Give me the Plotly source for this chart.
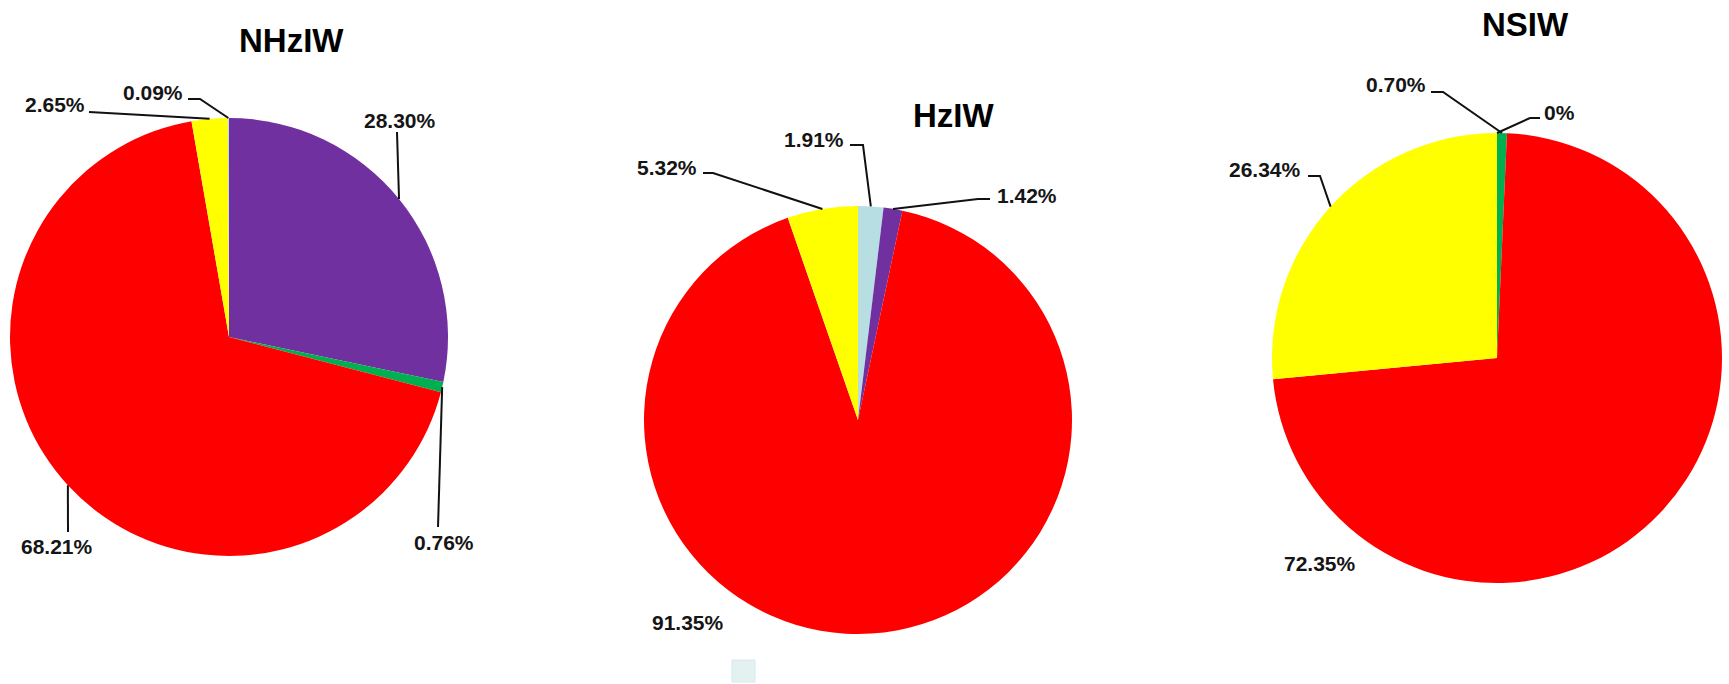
import math
import plotly.graph_objects as go

W, H = 1729, 684

# ---- data -------------------------------------------------------------
titles = ["NHzIW", "HzIW", "NSIW"]

category_colors = {
    "Type I": "#7030A0",    # purple
    "Type II": "#00B050",   # green
    "Type III": "#FF0000",  # red
    "Type IV": "#FFFF00",   # yellow
    "Type V": "#B7DEE2",    # light blue
}

nhziw_categories = ["Type I", "Type II", "Type III", "Type IV", "Type V"]
nhziw_values = [28.30, 0.76, 68.21, 2.65, 0.09]

hziw_categories = ["Type V", "Type I", "Type III", "Type IV"]
hziw_values = [1.91, 1.42, 91.35, 5.32]

nsiw_categories = ["Type I", "Type II", "Type III", "Type IV"]
nsiw_values = [0.0, 0.70, 72.35, 26.34]

# ---- layout (pixel space) ---------------------------------------------
pie_layout = [
    dict(center=(229, 337), radius=219, title_pos=(291, 40),
         labels=[((400, 120), [(397, 132)]),
                 ((444, 542), [(438, 527)]),
                 ((57, 546), [(68, 532)]),
                 ((55, 104), [(89, 112)]),
                 ((153, 93), [(200, 99), (188, 99)])]),
    dict(center=(858, 420), radius=214, title_pos=(954, 115),
         labels=[((814, 139), [(863, 145), (850, 145)]),
                 ((1027, 195), [(978, 199), (990, 199)]),
                 ((688, 622), []),
                 ((667, 167), [(713, 173), (703, 173)])]),
    dict(center=(1497, 358), radius=225, title_pos=(1525, 24),
         labels=[((1559, 112), [(1530, 118), (1540, 118)]),
                 ((1396, 85), [(1443, 92), (1431, 92)]),
                 ((1320, 563), []),
                 ((1265, 170), [(1320, 176), (1308, 176)])]),
]

series = [
    (nhziw_categories, nhziw_values),
    (hziw_categories, hziw_values),
    (nsiw_categories, nsiw_values),
]

FONT = "Liberation Sans, Arial, Helvetica, sans-serif"
TEXT_COLOR = "#151515"


def px(x, y):
    return x / W, 1 - y / H


def fmt(v):
    return "0%" if v == 0 else f"{v:.2f}%"


def edge_point(values, i, cx, cy, r):
    total = sum(values)
    frac = (sum(values[:i]) + values[i] / 2) / total
    th = 2 * math.pi * frac
    return cx + r * math.sin(th), cy - r * math.cos(th)


fig = go.Figure()
annotations = []
shapes = []

for (cats, vals), title, lay in zip(series, titles, pie_layout):
    cx, cy = lay["center"]
    r = lay["radius"]
    x0, y1 = px(cx - r, cy - r)
    x1, y0 = px(cx + r, cy + r)
    fig.add_trace(go.Pie(
        labels=cats,
        values=vals,
        sort=False,
        direction="clockwise",
        rotation=0,
        marker=dict(colors=[category_colors[c] for c in cats],
                    line=dict(width=0)),
        textinfo="none",
        hoverinfo="label+percent",
        showlegend=False,
        domain=dict(x=[x0, x1], y=[y0, y1]),
    ))

    tx, ty = px(*lay["title_pos"])
    annotations.append(dict(
        x=tx, y=ty, xref="paper", yref="paper", text=title,
        showarrow=False, xanchor="center", yanchor="middle",
        font=dict(family=FONT, size=33, color="#000000", weight="bold"),
    ))

    for i, (v, (text_pos, route)) in enumerate(zip(vals, lay["labels"])):
        lx, ly = px(*text_pos)
        annotations.append(dict(
            x=lx, y=ly, xref="paper", yref="paper", text=fmt(v),
            showarrow=False, xanchor="center", yanchor="middle",
            font=dict(family=FONT, size=21, color=TEXT_COLOR, weight="bold"),
        ))
        if route:
            pts = [edge_point(vals, i, cx, cy, r)] + route
            path = ""
            for k, (x, y) in enumerate(pts):
                u, w = px(x, y)
                path += ("M" if k == 0 else " L") + f" {u:.5f} {w:.5f}"
            shapes.append(dict(
                type="path", path=path, xref="paper", yref="paper",
                line=dict(color="#111111", width=2),
            ))

# small faint swatch beneath the middle chart
sx0, sy0 = px(732, 660)
sx1, sy1 = px(755, 682)
shapes.append(dict(
    type="rect", x0=sx0, y0=sy1, x1=sx1, y1=sy0, xref="paper", yref="paper",
    fillcolor="#E4F1F1", line=dict(color="#D6EAEA", width=1),
))

fig.update_layout(
    width=W, height=H,
    margin=dict(l=0, r=0, t=0, b=0),
    paper_bgcolor="white",
    plot_bgcolor="white",
    annotations=annotations,
    shapes=shapes,
)

fig.write_html("out.html", config={"displayModeBar": False})
